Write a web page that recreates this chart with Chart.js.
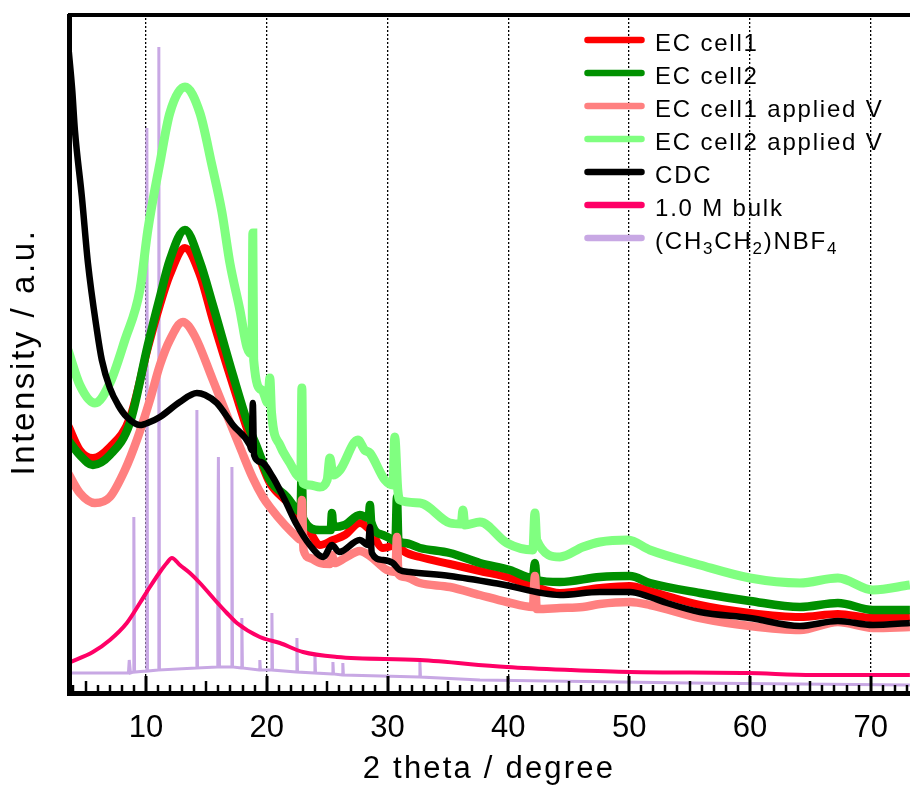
<!DOCTYPE html>
<html>
<head>
<meta charset="utf-8">
<script src="https://cdn.jsdelivr.net/npm/chart.js@4.4.1/dist/chart.umd.min.js"></script>
<style>
  html, body { margin: 0; padding: 0; background: #fff; }
</style>
</head>
<body>
<canvas id="xrd" width="910" height="790"></canvas>
<script>
// XRD patterns: [2 theta (deg), intensity (a.u.)]
const xMin = 3.55, xMax = 73.25;
const yMin = 0, yMax = 676;
const xTickStep = 10;

const seriesNames = ['EC cell1', 'EC cell2', 'EC cell1 applied V', 'EC cell2 applied V',
  'CDC', '1.0 M bulk', '(CH\u2083CH\u2082)NBF\u2084'];
const seriesColors = ['#ff0000', '#009000', '#ff8080', '#80ff80', '#000000', '#ff0066', '#c8a8e4'];

const ecCell1 = [[3.55,265],[4.53,240],[5.61,232],[7.02,243],[8.67,272],[10.16,342],[11.16,385],
  [11.98,415],[13.23,442],[14.47,415],[15.54,370],[17.2,305],[18.61,253],[19.19,238],[20.26,207],
  [21.92,185],[22.5,175],[23.57,158],[24.4,145],[25.48,150],[26.47,155],[27.71,167],[28.54,160],
  [29.62,142],[30.78,145],[31.44,138],[32.68,133],[35.16,126],[37.65,119],[40.13,112],[42.03,104],
  [44.27,97],[47.58,102],[50.06,104],[51.72,99],[55.86,85],[60.0,77],[64.14,73],[67.28,76],
  [70.18,72],[73.24,73]];

const ecCell2 = [[3.55,250],[4.53,235],[5.61,225],[7.02,235],[8.67,267],[10.16,345],[11.16,393],
  [11.98,430],[13.23,460],[14.47,428],[15.54,385],[17.2,315],[18.61,260],[19.19,243],[20.26,210],
  [21.67,193],[22.5,180],[22.8,178],[22.9,225],[23.0,172],[24.4,160],[25.3,160],[25.4,177],
  [25.5,163],[26.47,165],[27.71,175],[28.45,172],[28.54,185],[28.65,168],[29.62,155],[30.44,150],
  [30.65,148],[30.78,193],[30.9,150],[31.44,147],[32.68,142],[35.16,137],[37.65,127],[40.13,120],
  [42.03,112],[42.2,127],[42.35,110],[44.27,108],[47.58,113],[50.06,114],[51.72,107],[55.86,97],
  [60.0,89],[64.14,83],[67.28,87],[70.18,80],[73.24,80]];

const ecCell1V = [[3.55,217],[4.53,197],[5.78,187],[7.02,193],[8.26,220],[9.25,250],[10.33,290],
  [11.16,325],[11.98,350],[13.06,368],[14.0,355],[15.54,310],[16.7,275],[17.78,243],[18.85,212],
  [19.68,193],[20.26,183],[21.5,165],[22.5,153],[22.8,150],[22.91,190],[23.05,140],[23.57,132],
  [24.4,127],[25.23,126],[25.4,135],[25.6,127],[26.47,132],[27.71,139],[28.54,134],[29.95,120],
  [30.65,118],[30.78,153],[30.9,116],[31.44,113],[32.68,107],[35.16,103],[37.65,95],[39.88,88],
  [42.03,83],[42.2,114],[42.35,81],[44.27,82],[46.17,83],[47.58,86],[50.06,88],[51.72,85],
  [55.86,72],[60.0,64],[64.14,60],[67.28,68],[70.18,62],[73.24,63]];

const ecCell2V = [[3.55,340],[4.53,305],[5.78,287],[7.02,307],[8.26,350],[9.5,400],[10.16,460],
  [11.16,527],[11.98,577],[13.23,603],[14.47,577],[15.46,525],[16.29,478],[16.95,427],[17.78,380],
  [18.36,343],[18.78,336],[18.85,457],[18.92,330],[19.6,300],[20.1,287],[20.26,312],[20.4,277],
  [21.09,245],[21.92,227],[22.5,215],[22.82,212],[22.91,302],[23.0,207],[23.57,205],[24.4,203],
  [25.0,210],[25.23,232],[25.5,215],[26.06,220],[27.55,250],[28.1,240],[28.54,237],[29.78,210],
  [30.45,205],[30.6,253],[30.85,200],[31.02,190],[32.68,187],[35.16,167],[36.1,166],[36.24,180],
  [36.4,165],[37.65,168],[39.88,147],[42.03,140],[42.2,177],[42.35,150],[44.27,133],[46.17,143],
  [47.58,148],[49.9,150],[51.72,140],[55.86,125],[60.0,112],[64.14,107],[67.28,112],[70.18,100],
  [73.24,105]];

const cdc = [[3.62,638],[3.9,600],[4.12,560],[4.7,493],[5.2,427],[5.94,360],[6.35,330],[7.02,302],
  [7.7,285],[8.42,273],[9.5,265],[10.33,268],[11.16,273],[12.81,288],[14.22,297],[14.9,295],
  [15.87,287],[17.2,265],[18.6,245],[18.75,240],[18.85,287],[18.95,235],[19.5,228],[20.5,213],
  [21.5,190],[22.5,165],[23.57,145],[24.7,133],[25.4,145],[26.0,138],[27.7,150],[28.4,145],
  [28.54,163],[28.7,137],[29.6,130],[30.44,127],[31.0,120],[31.85,118],[35.16,114],[39.3,106],
  [44.27,95],[47.58,98],[50.06,98],[51.72,93],[53.13,87],[55.86,78],[60.0,72],[64.14,64],
  [67.28,69],[70.18,65],[73.24,67]];

const bulk = [[3.55,27],[5.61,38],[7.02,50],[8.42,67],[9.5,87],[10.33,103],[11.16,118],[11.73,127],
  [12.15,132],[12.81,125],[13.64,117],[14.47,107],[15.71,90],[16.7,77],[17.53,67],[19.43,53],
  [21.09,47],[23.0,38],[25.81,33],[32.68,30],[39.88,23],[45.1,20],[50.06,18],[59.75,17],
  [65.21,15],[73.24,15]];

const teaBF4 = [[3.55,17],[8.55,17],[8.62,30],[8.72,17],[8.95,18],[9.0,173],[9.06,18],[10.03,19],
  [10.08,562],[10.13,19],[11.02,20],[11.07,643],[11.12,20],[14.17,22],[14.22,280],[14.27,22],
  [15.9,23],[15.95,133],[16.0,233],[16.04,233],[16.09,23],[17.07,23],[17.12,223],[17.17,23],
  [17.9,22],[17.94,72],[17.99,22],[19.38,20],[19.43,30],[19.48,20],[20.38,20],[20.43,77],
  [20.48,20],[22.45,18],[22.5,52],[22.55,18],[23.94,17],[23.99,37],[24.04,17],[25.43,16],
  [25.48,28],[25.53,16],[26.25,15],[26.3,27],[26.35,15],[32.63,13],[32.68,28],[32.73,13],
  [37.65,10],[55.0,7],[73.24,5]];

const seriesData = [ecCell1, ecCell2, ecCell1V, ecCell2V, cdc, bulk, teaBF4];
const lineWidths = [8, 8.5, 8.5, 9, 6.5, 4, 3];
const drawOrder = [5, 4, 3, 2, 1, 6, 7]; // lower = drawn on top

const fontFamily = "'Liberation Sans', Arial, Helvetica, sans-serif";
const subDigits = '\u2080\u2081\u2082\u2083\u2084\u2085\u2086\u2087\u2088\u2089';

// scale titles in the figure are set with wide letter spacing
function spacedTitle(scale, spacing) {
  if (scale._spaced) return;
  scale._spaced = true;
  const base = scale.drawTitle;
  scale.drawTitle = function () {
    const prev = this.ctx.letterSpacing;
    this.ctx.letterSpacing = spacing + 'px';
    base.call(this);
    this.ctx.letterSpacing = prev;
  };
}

// frame and inward ticks on the bottom axis
const frameAndTicks = {
  id: 'frameAndTicks',
  afterDraw(chart) {
    const { ctx, chartArea: a, scales: { x } } = chart;
    ctx.save();
    ctx.strokeStyle = '#000';
    for (let d = Math.ceil(x.min); d <= x.max; d++) {
      const px = Math.round(x.getPixelForValue(d));
      const len = d % 10 === 0 ? 14 : (d % 5 === 0 ? 9 : 5);
      ctx.lineWidth = d % 10 === 0 ? 3 : 2.5;
      ctx.beginPath();
      ctx.moveTo(px, a.bottom + 2);
      ctx.lineTo(px, a.bottom - len);
      ctx.stroke();
    }
    ctx.lineWidth = 5;
    ctx.beginPath();
    ctx.moveTo(a.left, a.bottom + 3.5);
    ctx.lineTo(a.right, a.bottom + 3.5);
    ctx.stroke();
    ctx.beginPath();
    ctx.moveTo(a.left + 1.5, a.top);
    ctx.lineTo(a.left + 1.5, a.bottom + 6);
    ctx.stroke();
    ctx.lineWidth = 4;
    ctx.beginPath();
    ctx.moveTo(a.left, a.top + 1);
    ctx.lineTo(a.right, a.top + 1);
    ctx.stroke();
    ctx.restore();
  }
};

// legend in the upper right corner, with real subscripts
const legendBox = {
  id: 'legendBox',
  afterDraw(chart) {
    const ctx = chart.ctx;
    ctx.save();
    ctx.letterSpacing = '1.8px';
    ctx.textBaseline = 'alphabetic';
    chart.data.datasets.forEach((ds, i) => {
      const y = 40 + i * 33;
      ctx.strokeStyle = ds.borderColor;
      ctx.lineWidth = 6.5;
      ctx.lineCap = 'round';
      ctx.beginPath();
      ctx.moveTo(587.5, y);
      ctx.lineTo(641.5, y);
      ctx.stroke();
      ctx.fillStyle = '#000';
      let x = 655;
      for (const ch of ds.label) {
        const k = subDigits.indexOf(ch);
        if (k >= 0) {
          ctx.font = '17px ' + fontFamily;
          ctx.fillText(String(k), x, y + 16);
          x += ctx.measureText(String(k)).width;
        } else {
          ctx.font = '24px ' + fontFamily;
          ctx.fillText(ch, x, y + 10.5);
          x += ctx.measureText(ch).width;
        }
      }
    });
    ctx.restore();
  }
};

new Chart(document.getElementById('xrd'), {
  type: 'line',
  data: {
    datasets: seriesNames.map((name, i) => ({
      label: name,
      data: seriesData[i],
      borderColor: seriesColors[i],
      backgroundColor: seriesColors[i],
      borderWidth: lineWidths[i],
      order: drawOrder[i],
      pointRadius: 0,
      cubicInterpolationMode: i === 6 ? 'default' : 'monotone',
      tension: 0,
      fill: false
    }))
  },
  options: {
    responsive: false,
    animation: false,
    devicePixelRatio: 1,
    layout: { padding: { top: 14, right: 0, left: 0, bottom: 0 } },
    scales: {
      x: {
        type: 'linear',
        min: xMin,
        max: xMax,
        afterFit: (s) => { s.height = 100; spacedTitle(s, 2.2); },
        ticks: {
          stepSize: xTickStep,
          includeBounds: false,
          padding: 20,
          color: '#000',
          maxRotation: 0,
          font: { family: fontFamily, size: 31 }
        },
        grid: { color: '#000', lineWidth: 1.3, drawTicks: false },
        border: { display: false, dash: [2, 2] },
        title: {
          display: true,
          text: '2 theta / degree',
          color: '#000',
          font: { family: fontFamily, size: 31 },
          padding: { top: 0, bottom: 2 }
        }
      },
      y: {
        min: yMin,
        max: yMax,
        afterFit: (s) => { s.width = 68; spacedTitle(s, 2.6); },
        ticks: { display: false },
        grid: { display: false },
        border: { display: false },
        title: {
          display: true,
          text: 'Intensity / a.u.',
          color: '#000',
          font: { family: fontFamily, size: 33 },
          padding: { top: 5, bottom: 0 }
        }
      }
    },
    plugins: {
      tooltip: { enabled: false },
      legend: { display: false }
    }
  },
  plugins: [frameAndTicks, legendBox]
});
</script>
</body>
</html>
